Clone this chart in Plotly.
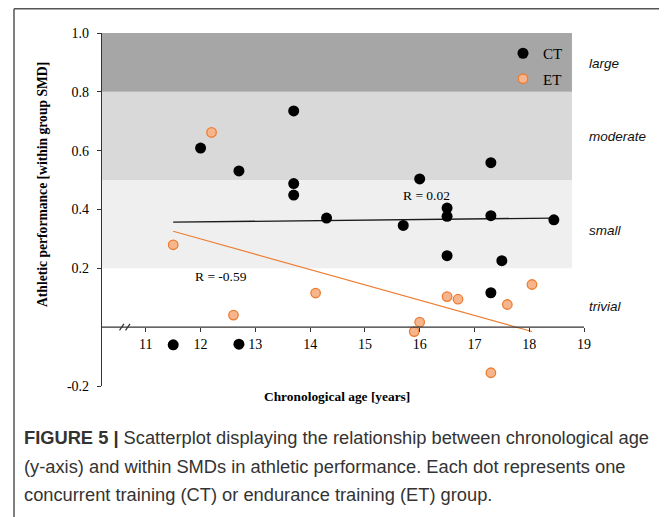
import plotly.graph_objects as go

# ---------------- data ----------------
ct_age = [12.0, 12.7, 13.7, 13.7, 13.7, 14.3, 16.0, 17.3, 15.7, 16.5, 16.5, 17.3, 18.45, 16.5, 17.5, 17.3, 11.5, 12.7]
ct_smd = [0.609, 0.531, 0.735, 0.488, 0.449, 0.371, 0.504, 0.559, 0.346, 0.405, 0.377, 0.379, 0.365, 0.243, 0.226, 0.117, -0.060, -0.058]

et_age = [12.2, 11.5, 12.6, 14.1, 16.5, 16.7, 17.6, 18.05, 16.0, 15.9, 17.3]
et_smd = [0.662, 0.280, 0.041, 0.116, 0.104, 0.095, 0.077, 0.145, 0.017, -0.015, -0.155]

ct_fit_age = [11.5, 18.45]
ct_fit_smd = [0.357, 0.371]
et_fit_age = [11.5, 18.05]
et_fit_smd = [0.326, -0.015]

band_edges = [0.2, 0.5, 0.8, 1.0]
band_names = ["small", "moderate", "large"]
zone_labels = ["large", "moderate", "small", "trivial"]
zone_label_y = [0.898, 0.647, 0.33, 0.069]

x_ticks = [11, 12, 13, 14, 15, 16, 17, 18, 19]
y_ticks = [-0.2, 0.2, 0.4, 0.6, 0.8, 1.0]
y_ticklabels = ["-0.2", "0.2", "0.4", "0.6", "0.8", "1.0"]

r_labels = ["R = 0.02", "R = -0.59"]
r_label_pos = [(15.65, 0.448), (11.87, 0.171)]

caption_lines = [
    "<b>FIGURE 5 |</b> Scatterplot displaying the relationship between chronological age",
    "(y-axis) and within SMDs in athletic performance. Each dot represents one",
    "concurrent training (CT) or endurance training (ET) group.",
]

# ---------------- styling ----------------
SERIF = "Liberation Serif, Times New Roman, serif"
SANS = "Liberation Sans, Arial, sans-serif"
ORANGE = "#ED7D31"
X_MIN, X_MAX = 10.2, 19.0
Y_MIN, Y_MAX = -0.2, 1.0
BAND_X_END = 18.78
band_colors = ["#efefef", "#d9d9d9", "#a6a6a6"]

OFF = 8  # page body margin in the browser
W, H = 667 - OFF, 517 - OFF
ML, MR, MT, MB = 102 - OFF, 83, 33 - OFF, 131
PW, PH = W - ML - MR, H - MT - MB


def px_x(px):
    """screen x (reference pixels) -> paper x"""
    return (px - OFF - ML) / PW


def px_y(py):
    """screen y (reference pixels) -> paper y"""
    return (H - MB - (py - OFF)) / PH


fig = go.Figure()

fig.add_trace(go.Scatter(
    x=ct_fit_age, y=ct_fit_smd, mode="lines",
    line=dict(color="#1a1a1a", width=1.3), showlegend=False, hoverinfo="skip"))
fig.add_trace(go.Scatter(
    x=et_fit_age, y=et_fit_smd, mode="lines",
    line=dict(color=ORANGE, width=1.1), showlegend=False, hoverinfo="skip"))

fig.add_trace(go.Scatter(
    x=ct_age, y=ct_smd, mode="markers", name="CT",
    marker=dict(color="black", size=11, line=dict(width=0)), legendgroup="ct"))
fig.add_trace(go.Scatter(
    x=et_age, y=et_smd, mode="markers", name="ET",
    marker=dict(color="#F6B58C", size=9.5, line=dict(color=ORANGE, width=1.3)),
    legendgroup="et"))

shapes = []
for i in range(len(band_names)):
    shapes.append(dict(type="rect", xref="x", yref="y", x0=X_MIN, x1=BAND_X_END,
                       y0=band_edges[i], y1=band_edges[i + 1],
                       fillcolor=band_colors[i], line=dict(width=0), layer="below"))
shapes.append(dict(type="line", xref="x", yref="y", x0=X_MIN, x1=X_MAX, y0=0, y1=0,
                   line=dict(color="#333333", width=1.2)))
for bx in [10.56, 10.67]:
    shapes.append(dict(type="line", xref="x", yref="y", x0=bx - 0.04, x1=bx + 0.04,
                       y0=-0.011, y1=0.011, line=dict(color="#333333", width=1.2)))
shapes.append(dict(type="line", xref="paper", yref="paper", x0=px_x(14), x1=px_x(668),
                   y0=px_y(8.8), y1=px_y(8.8), line=dict(color="#555555", width=1.5)))
shapes.append(dict(type="line", xref="paper", yref="paper", x0=px_x(14), x1=px_x(14),
                   y0=px_y(8.8), y1=px_y(518), line=dict(color="#555555", width=1.5)))

annotations = []
for txt, yv in zip(zone_labels, zone_label_y):
    annotations.append(dict(text=f"<i>{txt}</i>", xref="paper", yref="y", x=px_x(587), y=yv,
                            xanchor="left", yanchor="middle", showarrow=False,
                            font=dict(family=SANS, size=13.5, color="#111111")))
for txt, (xv, yv) in zip(r_labels, r_label_pos):
    annotations.append(dict(text=txt, xref="x", yref="y", x=xv, y=yv,
                            xanchor="left", yanchor="middle", showarrow=False,
                            font=dict(family=SERIF, size=13.5, color="black")))
annotations.append(dict(text="<b>Athletic performance [within group SMD]</b>", textangle=-90,
                        xref="paper", yref="paper", x=px_x(42), y=px_y(185),
                        xanchor="center", yanchor="middle", showarrow=False,
                        font=dict(family=SERIF, size=13.6, color="black")))
annotations.append(dict(text="<b>Chronological age [years]</b>",
                        xref="paper", yref="paper", x=px_x(337), y=px_y(396),
                        xanchor="center", yanchor="middle", showarrow=False,
                        font=dict(family=SERIF, size=13.4, color="black")))
for line, py in zip(caption_lines, [437, 466, 494]):
    annotations.append(dict(text=line, xref="paper", yref="paper", x=px_x(22), y=px_y(py),
                            xanchor="left", yanchor="middle", showarrow=False,
                            font=dict(family=SANS, size=18.3, color="#333333")))

fig.update_layout(
    width=W, height=H, autosize=False,
    margin=dict(l=ML, r=MR, t=MT, b=MB, pad=0),
    paper_bgcolor="white", plot_bgcolor="white",
    shapes=shapes, annotations=annotations,
    showlegend=True,
    legend=dict(x=px_x(568), y=px_y(37), xanchor="right", yanchor="top",
                bgcolor="rgba(0,0,0,0)", font=dict(family=SERIF, size=15, color="black"),
                tracegroupgap=3, itemwidth=30),
    xaxis=dict(range=[X_MIN, X_MAX], tickvals=x_ticks, ticks="outside", ticklen=4,
               tickcolor="#333333", tickwidth=1.2, showgrid=False, zeroline=False,
               showline=False, anchor="free", position=(0 - Y_MIN) / (Y_MAX - Y_MIN),
               tickfont=dict(family=SERIF, size=14, color="black")),
    yaxis=dict(range=[Y_MIN, Y_MAX], tickvals=y_ticks, ticktext=y_ticklabels,
               ticks="outside", ticklen=4, tickcolor="#333333", tickwidth=1.2,
               ticklabelstandoff=5,
               showgrid=False, zeroline=False, showline=True, linecolor="#333333",
               linewidth=1.2, tickfont=dict(family=SERIF, size=14, color="black")),
)

fig.write_html("out.html")
